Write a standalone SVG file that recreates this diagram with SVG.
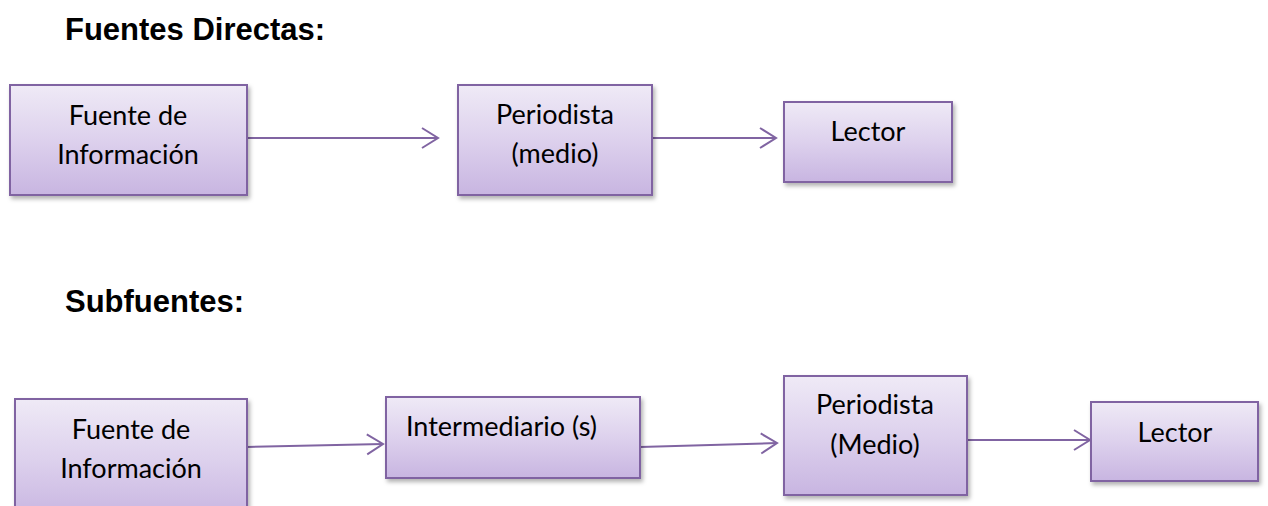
<svg xmlns="http://www.w3.org/2000/svg" width="1268" height="506" viewBox="0 0 1268 506">
<defs>
<linearGradient id="g" x1="0" y1="0" x2="0" y2="1">
<stop offset="0" stop-color="#EFEAF6"/>
<stop offset="0.5" stop-color="#DDD1ED"/>
<stop offset="1" stop-color="#C8B5E1"/>
</linearGradient>
<filter id="sh" x="-10%" y="-10%" width="130%" height="140%">
<feDropShadow dx="2" dy="3" stdDeviation="2" flood-color="#000" flood-opacity="0.3"/>
</filter>
<marker id="arr" markerUnits="userSpaceOnUse" markerWidth="22" markerHeight="26" viewBox="0 0 22 26" refX="19" refY="13" orient="auto">
<path d="M3,3 L19,13 L3,23" fill="none" stroke="#8064A2" stroke-width="2"/>
</marker>
</defs>
<style>
.box{fill:url(#g);stroke:#8064A2;stroke-width:2;filter:url(#sh)}
.t{font-family:Lato,"Open Sans","Liberation Sans",sans-serif;font-size:27px;fill:#000;text-anchor:middle}
.h{font-family:"Liberation Sans",Arial,sans-serif;font-size:31px;font-weight:bold;fill:#000}
.c{stroke:#8064A2;stroke-width:2;fill:none;marker-end:url(#arr)}
</style>
<text class="h" x="65" y="40">Fuentes Directas:</text>
<text class="h" x="65" y="312">Subfuentes:</text>
<g id="connectors">
<line class="c" x1="247" y1="138" x2="438" y2="138"/>
<line class="c" x1="652" y1="138" x2="776" y2="138"/>
<line class="c" x1="247" y1="447" x2="383" y2="444"/>
<line class="c" x1="640" y1="447" x2="777" y2="443"/>
<line class="c" x1="967" y1="440" x2="1090" y2="440"/>
</g>
<g id="n1"><rect class="box" x="10" y="85" width="237" height="110"/><text class="t" x="128" y="125">Fuente de</text><text class="t" x="128" y="164">Información</text></g>
<g id="n2"><rect class="box" x="458" y="85" width="194" height="110"/><text class="t" x="555" y="124">Periodista</text><text class="t" x="555" y="163">(medio)</text></g>
<g id="n3"><rect class="box" x="784" y="102" width="168" height="80"/><text class="t" x="868" y="141">Lector</text></g>
<g id="n4"><rect class="box" x="15" y="399" width="232" height="120"/><text class="t" x="131" y="439">Fuente de</text><text class="t" x="131" y="478">Información</text></g>
<g id="n5"><rect class="box" x="386" y="397" width="254" height="81"/><text class="t" x="406" y="436" style="text-anchor:start">Intermediario (s)</text></g>
<g id="n6"><rect class="box" x="784" y="376" width="183" height="119"/><text class="t" x="875" y="414">Periodista</text><text class="t" x="875" y="454">(Medio)</text></g>
<g id="n7"><rect class="box" x="1091" y="402" width="167" height="79"/><text class="t" x="1175" y="442">Lector</text></g>
</svg>
